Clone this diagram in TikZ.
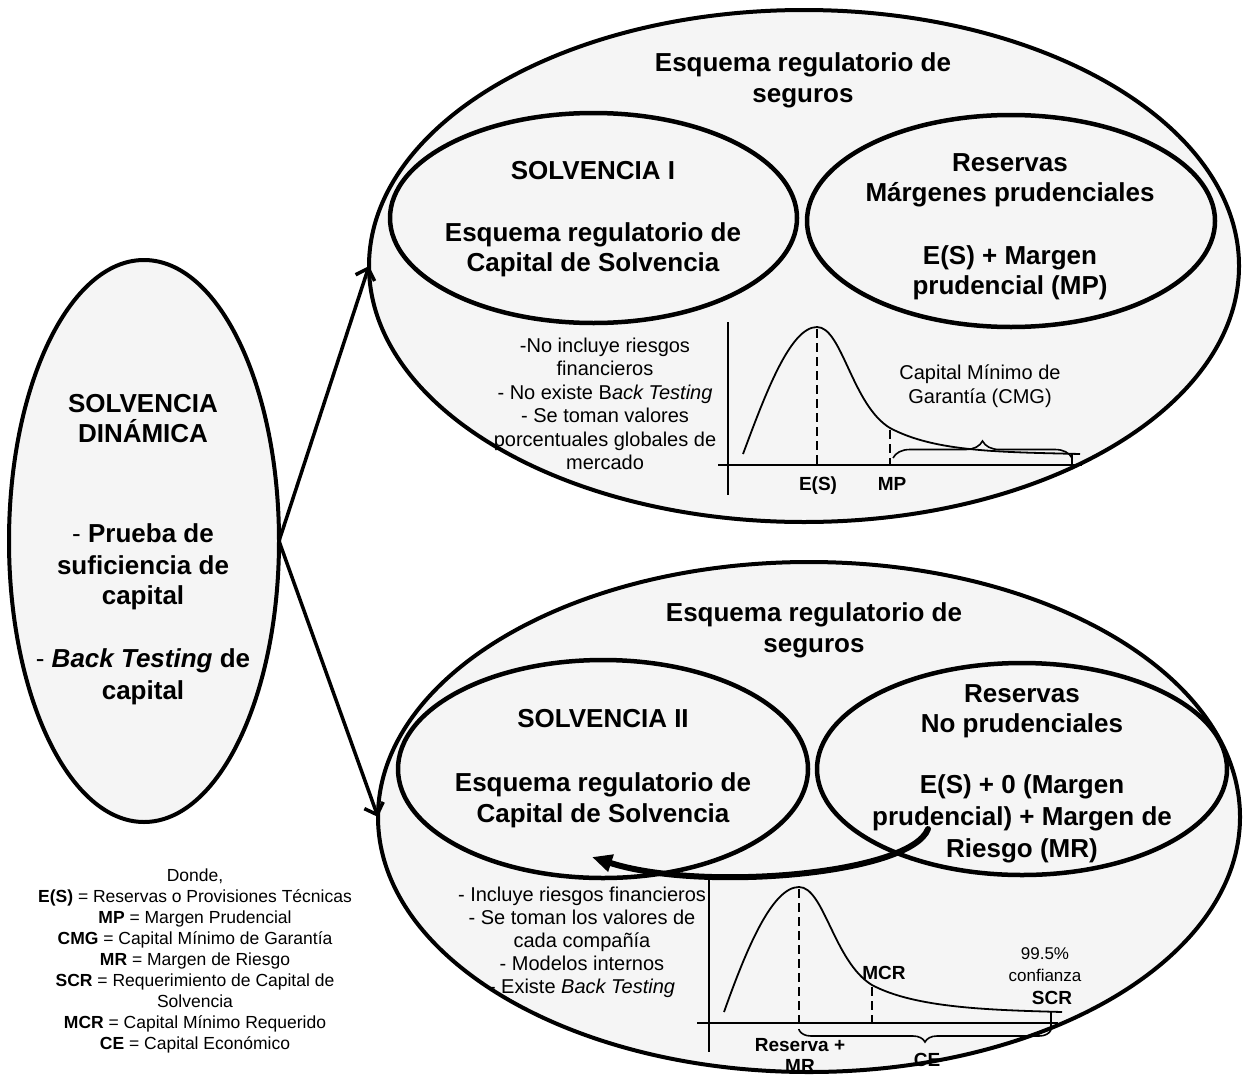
\documentclass[tikz,border=0pt]{standalone}
\usepackage{fontspec}
\setmainfont{Liberation Sans}
\usetikzlibrary{shapes.geometric,arrows.meta,decorations.pathreplacing}

\begin{document}
\begin{tikzpicture}[x=1pt,y=-1pt,
  oval/.style={ellipse,draw=black,fill=black!4,line width=4pt,inner sep=0pt,outer sep=0pt},
  hd/.style={font=\fontsize{26}{30}\selectfont\bfseries,anchor=base,inner sep=0pt},
  sm/.style={font=\fontsize{20}{24}\selectfont,anchor=base,inner sep=0pt},
  lb/.style={font=\fontsize{19}{22}\selectfont\bfseries,anchor=base,inner sep=0pt},
  pc/.style={font=\fontsize{17}{20}\selectfont,anchor=base,inner sep=0pt},
  lg/.style={font=\fontsize{17.5}{19}\selectfont,anchor=base,inner sep=0pt},
  ax/.style={line width=2.2pt},
  crv/.style={line width=1.8pt},
  dsh/.style={line width=2.2pt,dash pattern=on 9pt off 5pt},
  brc/.style={line width=1.6pt,decorate,decoration={brace,amplitude=#1}},
  link/.style={line width=3.5pt,-{Straight Barb[length=10pt,width=20pt]}},
  back/.style={line width=6pt,line cap=round,-{Triangle[length=20pt,width=17pt]}},
]
\useasboundingbox (0,0) rectangle (1244,1076);
\fill[white] (0,0) rectangle (1244,1076);

% outer ovals
\node[oval,minimum width=870pt,minimum height=512pt] (topE) at (804,266) {};
\node[oval,minimum width=862pt,minimum height=510pt] (botE) at (809,817) {};
\node[oval,minimum width=270pt,minimum height=562pt] (sd) at (144,541) {};

% inner ovals
\node[oval,line width=4.5pt,minimum width=407pt,minimum height=210pt] (s1) at (593.5,218) {};
\node[oval,line width=4.5pt,minimum width=408pt,minimum height=212pt] (r1) at (1011,221) {};
\node[oval,line width=4.5pt,minimum width=410pt,minimum height=218pt] (s2) at (603,769) {};
\node[oval,line width=4.5pt,minimum width=410pt,minimum height=212pt] (r2) at (1022,769) {};

% left oval text
\node[hd] (sdA) at (143,412) {SOLVENCIA};
\node[hd] (sdB) at (143,442) {DINÁMICA};
\node[hd] (sdC) at (143,542) {{\mdseries -} Prueba de};
\node[hd] (sdD) at (143,574) {suficiencia de};
\node[hd] (sdE) at (143,604) {capital};
\node[hd] (sdF) at (143,667) {{\mdseries -} \textit{Back Testing} de};
\node[hd] (sdG) at (143,699) {capital};

% upper scheme
\node[hd] (tA) at (803,71) {Esquema regulatorio de};
\node[hd] (tB) at (803,102) {seguros};
\node[hd] (s1A) at (593,179) {SOLVENCIA I};
\node[hd] (s1B) at (593,241) {Esquema regulatorio de};
\node[hd] (s1C) at (593,271) {Capital de Solvencia};
\node[hd] (r1A) at (1010,171) {Reservas};
\node[hd] (r1B) at (1010,201) {Márgenes prudenciales};
\node[hd] (r1C) at (1010,264) {E(S) + Margen};
\node[hd] (r1D) at (1010,294) {prudencial (MP)};

% lower scheme
\node[hd] (bA) at (814,621) {Esquema regulatorio de};
\node[hd] (bB) at (814,652) {seguros};
\node[hd] (s2A) at (603,727) {SOLVENCIA II};
\node[hd] (s2B) at (603,791) {Esquema regulatorio de};
\node[hd] (s2C) at (603,822) {Capital de Solvencia};
\node[hd] (r2A) at (1022,702) {Reservas};
\node[hd] (r2B) at (1022,732) {No prudenciales};
\node[hd] (r2C) at (1022,793) {E(S) + 0 (Margen};
\node[hd] (r2D) at (1022,825) {prudencial) + Margen de};
\node[hd] (r2E) at (1022,857) {Riesgo (MR)};

% upper chart notes
\node[sm] (nA) at (605,352) {-No incluye riesgos};
\node[sm] (nB) at (605,375.5) {financieros};
\node[sm] (nC) at (605,399) {- No existe B\textit{ack Testing}};
\node[sm] (nD) at (605,422.5) {- Se toman valores};
\node[sm] (nE) at (605,446) {porcentuales globales de};
\node[sm] (nF) at (605,469.5) {mercado};
\node[sm] (cmA) at (980,379) {Capital Mínimo de};
\node[sm] (cmB) at (980,403) {Garantía (CMG)};
\node[lb] (lES) at (818,490) {E(S)};
\node[lb] (lMP) at (892,490) {MP};

% upper chart
\draw[ax] (728,322) -- (728,495);
\draw[ax] (718,465) -- (1082,465);
\draw[crv] (743,454) .. controls (765,395) and (790,327) .. (817,327)
  .. controls (842,327) and (852,405) .. (890,428)
  .. controls (935,452) and (1000,452) .. (1080,454);
\draw[dsh] (817,329) -- (817,465);
\draw[dsh] (890,430) -- (890,465);
\draw[ax] (1072,453) -- (1072,466);
\draw[brc=17pt] (893,458) -- (1072,458);

% lower chart notes
\node[sm] (mA) at (582,901) {- Incluye riesgos financieros};
\node[sm] (mB) at (582,924) {- Se toman los valores de};
\node[sm] (mC) at (582,947) {cada compañía};
\node[sm] (mD) at (582,970) {- Modelos internos};
\node[sm] (mE) at (582,993) {- Existe \textit{Back Testing}};
\node[lb] (lMCR) at (884,979) {MCR};
\node[pc] (pA) at (1045,959) {99.5\%};
\node[pc] (pB) at (1045,981) {confianza};
\node[lb] (lSCR) at (1052,1004) {SCR};
\node[lb] (lRA) at (800,1051) {Reserva +};
\node[lb] (lRB) at (800,1072) {MR};
\node[lb] (lCE) at (927,1066) {CE};

% lower chart
\draw[ax] (709,880) -- (709,1052);
\draw[ax] (697,1023) -- (1058,1023);
\draw[crv] (724,1012) .. controls (746,950) and (772,887) .. (799,887)
  .. controls (824,887) and (834,962) .. (872,985)
  .. controls (915,1008) and (990,1010) .. (1062,1012);
\draw[dsh] (799,889) -- (799,1030);
\draw[dsh] (872,987) -- (872,1023);
\draw[ax] (1051,1011) -- (1051,1030);
\draw[brc=12pt] (1051,1030) -- (799,1030);

% legend
\node[lg] (gA) at (195,881) {Donde,};
\node[lg] (gB) at (195,902) {\textbf{E(S)} = Reservas o Provisiones Técnicas};
\node[lg] (gC) at (195,923) {\textbf{MP} = Margen Prudencial};
\node[lg] (gD) at (195,944) {\textbf{CMG} = Capital Mínimo de Garantía};
\node[lg] (gE) at (195,965) {\textbf{MR} = Margen de Riesgo};
\node[lg] (gF) at (195,986) {\textbf{SCR} = Requerimiento de Capital de};
\node[lg] (gG) at (195,1007) {Solvencia};
\node[lg] (gH) at (195,1028) {\textbf{MCR} = Capital Mínimo Requerido};
\node[lg] (gI) at (195,1049) {\textbf{CE} = Capital Económico};

% connectors
\draw[link] (sd.east) -- (topE.west);
\draw[link] (sd.east) -- (botE.west);
\coordinate (cA) at (928,829);
\coordinate (cB) at (592,857);
\draw[back] (cA) .. controls (910,875) and (700,892) .. (cB);
\end{tikzpicture}
\end{document}
